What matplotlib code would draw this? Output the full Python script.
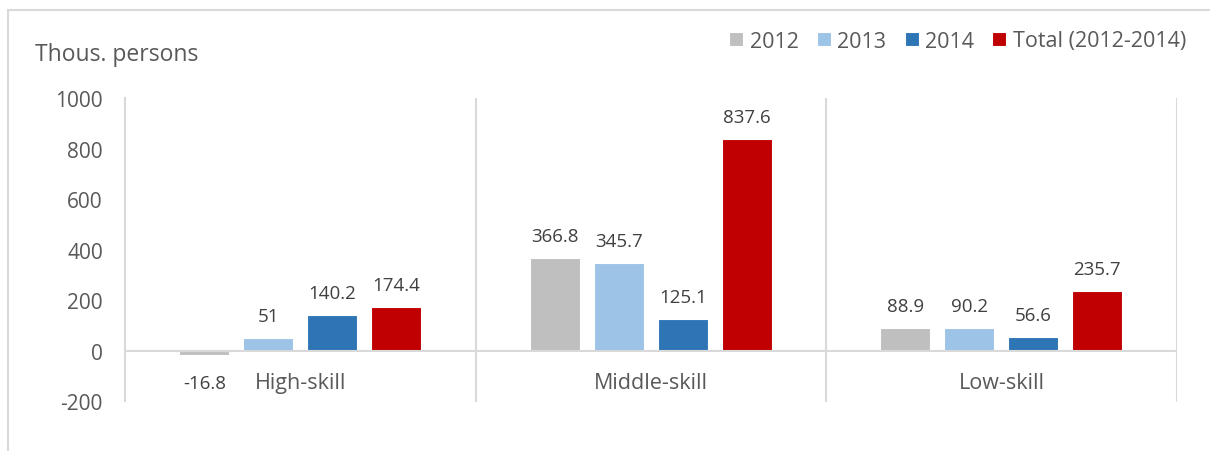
import numpy as np
import matplotlib
matplotlib.use('Agg')
import matplotlib.pyplot as plt
from matplotlib.patches import Rectangle

plt.rcParams['font.family'] = ['Open Sans', 'DejaVu Sans']
plt.rcParams['axes.unicode_minus'] = False

# Employment change by skill level, thousand persons
categories = ['High-skill', 'Middle-skill', 'Low-skill']
series_names = ['2012', '2013', '2014', 'Total (2012-2014)']
values_2012 = [-16.8, 366.8, 88.9]
values_2013 = [51, 345.7, 90.2]
values_2014 = [140.2, 125.1, 56.6]
values_total = [174.4, 837.6, 235.7]
y_ticks = [-200, 0, 200, 400, 600, 800, 1000]

colors = ['#BFBFBF', '#9DC3E6', '#2E75B6', '#C00000']
grid_col = '#D9D9D9'
text_col = '#595959'
label_col = '#404040'

W, H = 1210, 452
fig = plt.figure(figsize=(W / 100, H / 100), dpi=100)
ax = fig.add_axes([125 / W, 1 - 402.5 / H, (1176.7 - 125) / W, (402.5 - 99) / H])

# outer chart frame
fig.patches.append(Rectangle((8 / W, -0.1), 1.2, 1 - 11 / H + 0.1, transform=fig.transFigure,
                             fill=False, edgecolor=grid_col, linewidth=1.5))

x = np.arange(len(categories))
slot = 0.1826
width = 0.1427
all_series = [values_2012, values_2013, values_2014, values_total]
for k, (vals, col, name) in enumerate(zip(all_series, colors, series_names)):
    pos = x + (k - 1.5) * slot
    ax.bar(pos, vals, width, color=col, edgecolor='white', linewidth=0.8, label=name, zorder=3)
    for px, v in zip(pos, vals):
        if v >= 0:
            ax.annotate(f'{v:g}', (px, v), xytext=(0, 22), textcoords='offset pixels',
                        ha='center', va='center', fontsize=13.5, color=label_col)
        else:
            ax.annotate(f'{v:g}', (px, v), xytext=(0, -28), textcoords='offset pixels',
                        ha='center', va='center', fontsize=13.5, color=label_col)

ax.set_xlim(-0.5, 2.5)
ax.set_ylim(-200, 1000)
ax.set_yticks(y_ticks)
ax.tick_params(axis='y', length=0, pad=16, labelsize=15, labelcolor=text_col)
ax.set_xticks([])

for s in ['top', 'right', 'bottom']:
    ax.spines[s].set_visible(False)
ax.spines['left'].set_color(grid_col)
ax.spines['left'].set_linewidth(1.5)

# category separators and zero line
for b in [0.5, 1.5, 2.5]:
    ax.axvline(b, color=grid_col, linewidth=1.5, zorder=1)
ax.axhline(0, color=grid_col, linewidth=1.5, zorder=4)

# category names sit just below the zero line
for xi, name in zip(x, categories):
    ax.annotate(name, (xi, 0), xytext=(0, -32), textcoords='offset pixels',
                ha='center', va='center', fontsize=15.5, color=text_col)

fig.text(35 / W, 1 - 55 / H, 'Thous. persons', ha='left', va='center', fontsize=16.5, color=text_col)

fig.legend(loc='center right', bbox_to_anchor=(1186 / W, 1 - 42 / H), ncol=4, frameon=False,
           fontsize=15.5, labelcolor=text_col, handlelength=0.65, handleheight=0.65,
           handletextpad=0.3, columnspacing=0.85, borderaxespad=0, borderpad=0)

fig.savefig('out.png', dpi=100)
